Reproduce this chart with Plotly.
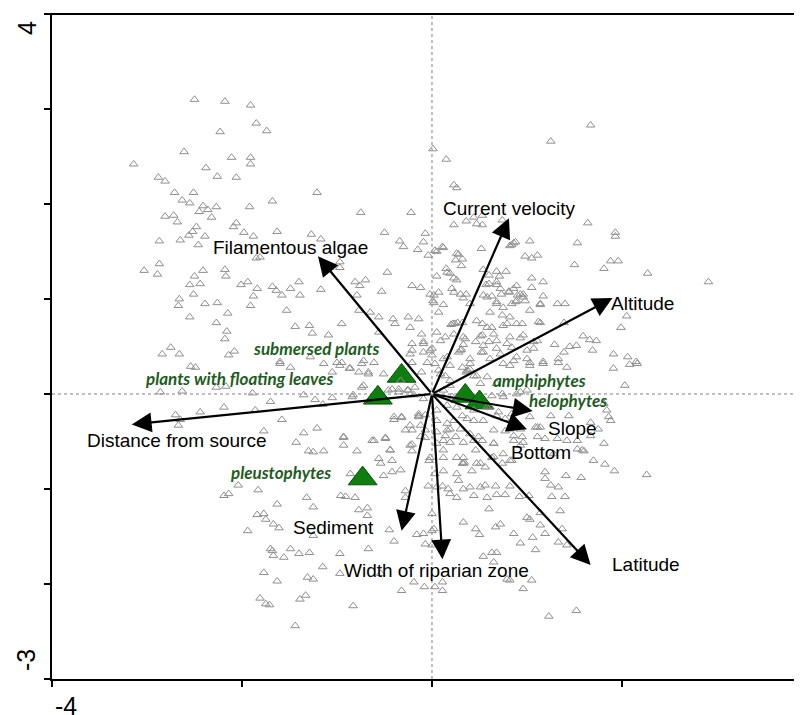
import plotly.graph_objects as go

# ---- site scores (gray open triangles) ----
site_x = [
-2.50,-2.18,-1.91,-1.85,-1.74,-2.23,-2.61,-3.14,-2.11,-1.91,-1.91,-2.38,-2.26,-2.06,-2.88,-2.81,-2.71,-2.51,-2.63,-2.55,
-2.41,-2.36,-2.27,-2.45,-2.32,-2.81,-2.72,-2.68,-1.92,-1.68,-1.21,-0.75,-0.22,0.01,-2.06,-2.09,-1.98,-1.88,-2.48,-2.52,
-2.56,-2.65,-2.39,-2.46,-2.87,-1.63,-1.27,-1.17,-0.50,-0.34,-0.30,-0.09,-0.15,-0.07,-0.04,-1.85,-1.81,-2.87,-3.03,-2.89,
-2.41,-2.50,-2.18,-2.17,-2.44,-2.55,-2.51,-2.66,-2.67,-2.39,-2.26,-2.01,-1.94,-1.84,-1.88,-1.91,-1.68,-1.64,-1.58,-1.49,
-1.40,-1.39,-1.17,-1.08,-0.97,-0.97,-0.81,-0.76,-0.70,-0.79,-0.53,-0.47,-0.21,-0.12,-0.02,0.01,-2.15,-2.27,-2.55,-2.16,
-2.18,-1.53,-1.44,-1.29,-1.26,-1.09,-0.95,-0.77,-0.65,-0.56,-0.41,-0.39,-0.25,-0.14,-0.23,-0.11,-0.56,-2.75,-2.84,-2.66,
-2.14,-2.08,-0.09,-0.21,-0.09,0.00,0.00,-1.60,-1.28,-1.00,-0.72,-0.61,
1.67,1.25,0.15,0.23,0.26,0.23,0.36,0.44,0.47,0.53,0.53,0.74,1.64,1.93,1.93,1.53,1.03,0.82,0.86,0.84,0.88,
0.52,0.12,0.05,0.28,0.25,0.32,0.31,0.98,1.05,1.11,1.50,1.81,1.88,1.96,2.27,2.91,0.15,0.19,0.05,0.23,
0.54,0.68,0.78,0.60,0.71,1.05,1.17,0.57,0.68,0.89,1.05,0.21,0.23,0.36,0.33,0.54,0.63,0.73,0.81,0.90,
0.96,0.98,0.88,0.68,1.17,1.14,1.32,1.40,0.02,0.02,0.12,0.07,2.05,1.99,1.39,1.14,0.95,0.82,0.74,0.79,
0.53,0.63,0.20,0.22,0.24,0.27,0.32,0.05,0.14,0.33,0.33,0.46,0.51,0.60,0.68,0.79,0.93,1.07,1.07,1.29,1.45,
1.52,1.59,1.66,1.73,1.69,1.91,2.06,2.15,1.39,1.33,1.17,1.00,0.86,0.72,0.40,0.30,0.31,0.12,0.52,
-2.54,-2.49,-2.86,-2.63,-2.27,-2.17,-1.89,-1.70,-1.60,-1.49,-1.35,-1.23,-1.15,-1.05,-0.83,-1.14,-0.97,-0.87,-1.05,-0.67,
-0.72,-0.51,-0.42,-0.35,-0.26,-0.19,-0.09,-2.70,-2.65,-2.67,-2.44,-2.19,-1.86,-1.58,-1.77,-1.35,-1.21,-1.43,-1.30,-1.25,
-1.14,-0.93,-0.79,-0.63,-0.49,-0.44,-0.40,-0.32,-0.28,-0.21,-0.14,-0.07,-0.21,-0.21,-0.07,-0.56,-0.42,-0.33,-0.51,-0.42,
-0.86,-0.03,-0.04,-0.28,-0.28,-2.04,-1.83,-2.19,-2.14,-1.63,-1.32,-1.25,-1.84,-1.77,-1.75,-1.67,-1.61,-1.94,-0.96,-0.91,
-0.81,-0.77,-0.68,-0.68,-1.25,-0.45,-0.40,-0.16,-0.09,0.00,-1.68,-1.70,-1.67,-1.56,-1.49,-1.40,-1.29,-0.97,-0.67,-1.77,
-1.63,-1.31,-1.25,-1.15,-0.97,-1.81,-1.75,-1.71,-1.39,-1.33,-0.83,-1.44,-0.32,-0.19,-0.08,-0.54,-0.07,0.00,0.03,
1.91,2.08,2.16,2.03,1.42,1.33,1.17,1.03,0.82,0.93,1.00,0.74,0.63,0.19,0.14,0.07,0.03,0.19,0.32,0.37,
0.38,0.40,0.36,0.47,0.51,0.58,0.70,0.77,0.88,0.82,0.93,0.65,0.77,0.54,0.44,0.37,0.32,0.23,0.16,0.19,
0.30,0.14,0.05,0.05,0.05,0.12,0.19,0.33,0.44,0.53,0.65,0.86,0.86,0.95,0.93,1.11,1.19,1.32,1.42,1.53,
1.14,1.09,1.25,1.44,1.67,1.75,1.67,1.84,1.86,1.88,1.81,1.58,1.60,1.53,1.70,1.81,1.82,1.92,2.26,3.88,
1.28,1.19,1.41,1.57,1.19,1.25,1.33,1.40,1.35,1.26,0.92,1.02,0.82,0.67,0.56,0.51,0.40,0.33,0.26,0.17,
0.11,0.58,0.68,0.77,0.44,0.60,0.33,0.72,0.67,0.46,0.50,0.86,1.00,1.03,1.14,1.14,1.19,1.06,0.93,1.09,
1.33,1.37,1.42,0.63,0.68,0.54,0.65,0.79,0.82,1.05,0.96,0.11,0.11,1.23,1.52,0.02,0.00,0.12,0.12,0.26,
0.32,0.34,0.33,0.42,0.51,0.56,0.63,0.65,0.74,0.82,0.03,0.05,0.28,0.19,0.46,-0.02,
-0.74,-0.67,-0.77,-0.95,-0.86,-0.74,-0.84,-0.46,-0.35,-0.25,-0.18,-0.40,-0.32,-0.23,-0.14,-0.61,-0.49,-0.93,-0.93,-0.23,
-0.12,-0.44,-0.54,-0.14,-0.12,-0.07,-0.21,-0.09,-0.02,-0.23,-0.21,-0.05,-0.11,-0.33,0.09,0.23,0.35,0.16,0.28,0.40,
0.54,0.61,0.09,0.19,0.44,0.58,0.68,0.12,0.21,0.75,0.89,0.16,0.26,0.44,0.61,0.68,0.84,1.03,0.16,0.25,
0.40,0.49,0.65,0.75,0.84,0.96,1.11,0.05,0.12,0.26,0.33,0.47,0.30,0.40,0.58,0.68,0.75,0.84,0.96,1.03,
1.14,0.61,0.47,0.58,0.75,0.89,1.12,0.53,0.65,0.82,0.96,1.11,0.54,0.68,0.84,1.00,0.89,1.03,0.75,
0.60,0.68,0.72,0.81,0.86,0.93,0.89,-1.06,-1.10,
0.03,0.11,0.26,0.07,0.16,0.26,
]
site_y = [
3.10,3.08,3.04,2.85,2.77,2.76,2.55,2.42,2.49,2.49,2.42,2.38,2.29,2.28,2.28,2.24,2.12,2.12,2.04,2.01,
1.98,1.94,1.97,1.92,1.86,1.87,1.88,1.81,1.97,2.03,2.12,1.91,1.91,2.58,1.80,1.76,1.70,1.66,1.76,1.71,
1.67,1.62,1.66,1.57,1.61,1.71,1.68,1.63,1.70,1.61,1.55,1.60,1.52,1.69,1.46,1.43,1.44,1.37,1.30,1.26,
1.30,1.24,1.31,1.24,1.16,1.15,1.05,1.00,0.93,0.95,0.96,1.15,1.18,1.11,1.03,0.93,1.13,1.09,1.04,1.11,
1.18,1.04,1.10,1.33,1.39,1.33,1.18,1.14,1.20,1.04,1.08,1.28,1.14,1.12,1.05,0.98,0.85,0.75,0.81,0.66,
0.58,0.88,0.71,0.72,0.64,0.62,0.74,0.88,0.86,0.81,0.79,0.74,0.81,0.79,0.70,0.63,0.65,0.49,0.42,0.42,
0.41,0.45,0.55,0.46,0.44,0.48,0.41,0.34,0.39,0.33,0.35,0.33,
2.83,2.66,2.47,2.20,2.17,1.78,1.82,1.86,1.79,1.78,1.88,1.83,1.80,1.70,1.66,1.59,1.61,1.56,1.59,1.57,1.60,
1.53,1.54,1.50,1.47,1.41,1.42,1.35,1.45,1.43,1.46,1.36,1.32,1.40,1.40,1.27,1.18,1.32,1.27,1.24,1.22,
1.31,1.29,1.29,1.25,1.24,1.22,1.18,1.15,1.15,1.14,1.12,1.11,1.07,1.05,1.01,1.04,1.03,1.05,1.08,1.04,
1.05,0.98,0.97,0.97,1.03,0.94,0.95,0.95,1.04,0.96,0.94,0.86,0.82,0.70,0.75,0.75,0.74,0.81,0.83,0.74,
0.74,0.70,0.73,0.74,0.74,0.75,0.75,0.65,0.60,0.60,0.52,0.55,0.61,0.55,0.56,0.53,0.59,0.55,0.48,0.52,0.50,
0.51,0.61,0.57,0.56,0.46,0.42,0.39,0.34,0.44,0.37,0.34,0.37,0.35,0.42,0.32,0.46,0.47,0.37,0.44,
0.29,0.28,0.02,0.03,0.07,0.08,0.01,-0.08,0.32,0.28,-0.01,-0.06,-0.11,-0.04,-0.01,0.32,0.30,0.27,0.23,0.21,
0.09,0.21,0.05,0.02,0.04,-0.01,-0.05,-0.22,-0.27,-0.33,-0.19,-0.14,-0.17,-0.27,-0.39,-0.41,-0.36,-0.51,-0.60,-0.61,
-0.60,-0.46,-0.60,-0.49,-0.46,-0.59,-0.27,-0.25,-0.38,-0.38,-0.21,-0.22,-0.53,-0.60,-0.46,-0.68,-0.70,-0.80,-0.86,-0.82,
-0.84,-0.70,-0.97,-1.02,-1.09,-0.96,-1.01,-1.07,-1.05,-1.16,-1.09,-1.19,-1.27,-1.26,-1.32,-1.37,-1.41,-1.44,-1.07,-1.08,
-1.09,-1.22,-1.20,-1.28,-1.49,-1.43,-1.55,-1.48,-1.47,-1.44,-1.65,-1.63,-1.70,-1.72,-1.63,-1.68,-1.67,-1.68,-1.63,-1.88,
-1.97,-1.93,-1.95,-1.82,-1.89,-2.15,-2.21,-2.22,-2.16,-2.12,-2.23,-2.44,-2.07,-1.98,-2.03,-1.89,-1.58,-1.59,-2.03,
0.27,0.31,0.32,0.09,0.28,0.33,0.32,0.33,0.30,0.02,0.04,0.00,-0.02,0.09,0.19,0.25,0.32,0.30,0.28,0.25,
0.24,0.26,0.23,0.19,0.11,-0.14,-0.19,-0.26,-0.33,-0.37,-0.37,-0.38,-0.39,-0.28,-0.28,-0.26,-0.23,-0.28,-0.31,-0.37,
-0.37,-0.44,-0.17,-0.28,-0.40,-0.49,-0.51,-0.51,-0.49,-0.49,-0.52,-0.44,-0.49,-0.45,-0.54,-0.45,-0.47,-0.47,-0.49,-0.49,
-0.35,-0.35,-0.23,-0.23,-0.30,-0.37,-0.44,-0.17,-0.24,-0.28,-0.10,-0.59,-0.60,-0.58,-0.70,-0.52,-0.74,-0.81,-0.85,-1.26,
-0.63,-0.82,-0.86,-0.88,-0.89,-0.96,-0.98,-1.08,-1.23,-1.08,-1.08,-1.07,-0.97,-0.97,-0.96,-0.98,-0.98,-1.00,-1.09,-1.00,
-0.97,-1.09,-1.06,-1.06,-1.07,-1.21,-1.35,-1.37,-1.40,-1.42,-1.48,-1.47,-1.30,-1.32,-1.25,-1.38,-1.47,-1.51,-1.57,-1.64,
-1.56,-1.42,-1.59,-1.67,-1.67,-1.71,-1.77,-1.95,-1.96,-1.96,-2.05,-1.98,-2.07,-2.34,-2.28,-1.42,-1.26,-0.67,-0.81,-0.84,
-0.73,-0.72,-0.67,-0.81,-0.73,-0.77,-0.67,-0.66,-0.73,-0.70,-0.84,-0.98,-0.91,-1.05,-0.59,-0.67,
0.32,0.23,0.23,0.33,0.27,0.07,-0.03,0.04,0.05,0.04,0.07,-0.24,-0.24,-0.33,-0.24,-0.49,-0.47,-0.45,-0.54,-0.54,
-0.45,-0.59,-0.73,-0.23,-0.33,-0.38,0.53,0.53,0.46,0.42,0.33,0.33,0.23,0.14,0.56,0.63,0.58,0.39,0.44,0.37,
0.44,0.37,0.21,0.14,0.19,0.18,0.11,0.04,-0.03,-0.03,0.00,-0.12,-0.14,-0.17,-0.14,-0.23,-0.21,-0.24,-0.38,-0.45,
-0.42,-0.45,-0.52,-0.63,-0.70,-0.51,-0.35,-0.52,-0.59,-0.67,-0.73,-0.73,1.05,0.95,1.02,0.95,0.91,0.95,1.02,0.88,
0.95,0.86,0.77,0.70,0.72,0.74,0.76,0.62,0.63,0.60,0.62,0.56,0.51,0.48,0.49,0.46,0.39,0.30,0.32,
1.16,1.18,1.11,1.07,1.11,1.05,0.98,1.35,1.31,
1.51,1.55,1.48,1.07,1.28,1.20,
]

# ---- species groups (green triangles) ----
species = ["submersed plants", "plants with floating leaves", "amphiphytes", "helophytes", "pleustophytes"]
species_x = [-0.32, -0.57, 0.35, 0.50, -0.73]
species_y = [0.19, -0.04, -0.02, -0.09, -0.89]
species_label_x = [-1.22, -2.03, 1.13, 1.43, -1.59]
species_label_y = [0.48, 0.16, 0.145, -0.065, -0.83]

# ---- environmental variables (arrows) ----
env_names = ["Current velocity", "Altitude", "Filamentous algae", "Distance from source",
             "Sediment", "Width of riparian zone", "Latitude", "Slope", "Bottom"]
env_x = [0.81, 1.90, -1.20, -3.16, -0.32, 0.11, 1.67, 1.06, 1.00]
env_y = [1.85, 1.01, 1.45, -0.32, -1.44, -1.74, -1.80, -0.18, -0.37]
env_label_x = [0.81, 2.22, -1.49, -2.68, -1.04, 0.05, 2.25, 1.48, 1.15]
env_label_y = [1.95, 0.95, 1.54, -0.49, -1.41, -1.86, -1.79, -0.36, -0.62]

x_ticks = [-4, -2, 0, 2]
y_ticks = [-3, -2, -1, 0, 1, 2, 3, 4]

fig = go.Figure()

fig.add_trace(go.Scatter(
    x=species_x, y=species_y, mode="markers",
    marker=dict(symbol="triangle-up", size=25, color="#0e7f0e",
                line=dict(width=1, color="#0a4f0a")),
    text=species, hoverinfo="text", showlegend=False))

fig.add_trace(go.Scatter(
    x=site_x, y=site_y, mode="markers",
    marker=dict(symbol="triangle-up-open", size=7.5, color="#8f8f8f",
                line=dict(width=1, color="#8f8f8f")),
    hoverinfo="skip", showlegend=False))

annotations = []
for name, x, y, lx, ly in zip(env_names, env_x, env_y, env_label_x, env_label_y):
    annotations.append(dict(
        x=x, y=y, ax=0, ay=0, xref="x", yref="y", axref="x", ayref="y",
        text="", showarrow=True, arrowhead=2, arrowsize=1.8, arrowwidth=2.2,
        arrowcolor="black"))
    annotations.append(dict(
        x=lx, y=ly, xref="x", yref="y", text=name, showarrow=False,
        xanchor="center", yanchor="middle",
        font=dict(family="Arial, Liberation Sans, sans-serif", size=19, color="black")))

for name, lx, ly in zip(species, species_label_x, species_label_y):
    annotations.append(dict(
        x=lx, y=ly, xref="x", yref="y", text=name, showarrow=False,
        xanchor="center", yanchor="middle",
        font=dict(family="Lato, Open Sans, sans-serif", size=17, color="#1e5c1e",
                  weight="bold", style="italic")))

tick_font = dict(family="Arial, Liberation Sans, sans-serif", size=25, color="black")
annotations += [
    dict(x=-0.0333, y=0.979, xref="paper", yref="paper", text="4", showarrow=False,
         textangle=-90, font=tick_font, xanchor="center", yanchor="middle"),
    dict(x=-0.0347, y=0.0286, xref="paper", yref="paper", text="-3", showarrow=False,
         textangle=-90, font=tick_font, xanchor="center", yanchor="middle"),
    dict(x=0.0187, y=-0.040, xref="paper", yref="paper", text="-4", showarrow=False,
         font=tick_font, xanchor="center", yanchor="middle"),
    dict(x=1.012, y=-0.040, xref="paper", yref="paper", text="4", showarrow=False,
         font=tick_font, xanchor="center", yanchor="middle"),
]

shapes = [
    dict(type="line", xref="x", yref="paper", x0=0, x1=0, y0=0, y1=1,
         line=dict(color="#7f7f7f", width=1, dash="dot"), layer="below"),
    dict(type="line", xref="paper", yref="y", x0=0, x1=1, y0=0, y1=0,
         line=dict(color="#7f7f7f", width=1, dash="dot"), layer="below"),
    dict(type="line", xref="paper", yref="paper", x0=-0.008, x1=1, y0=1, y1=1,
         line=dict(color="black", width=2)),
]

# page body has an 8px default margin; figure sized to fit the window
fig.update_layout(
    width=794, height=707,
    margin=dict(l=44, r=0, t=6, b=36),
    plot_bgcolor="white", paper_bgcolor="white",
    annotations=annotations, shapes=shapes,
    xaxis=dict(range=[-4, 3.895], showgrid=False, zeroline=False,
               showline=True, linecolor="black", linewidth=2,
               ticks="outside", tickvals=x_ticks, ticklen=6, tickwidth=1.5,
               tickcolor="black", showticklabels=False, fixedrange=True),
    yaxis=dict(range=[-3, 4], showgrid=False, zeroline=False,
               showline=True, linecolor="black", linewidth=2,
               ticks="outside", tickvals=y_ticks, ticklen=6, tickwidth=1.5,
               tickcolor="black", showticklabels=False, fixedrange=True),
)

fig.write_html("out.html")
